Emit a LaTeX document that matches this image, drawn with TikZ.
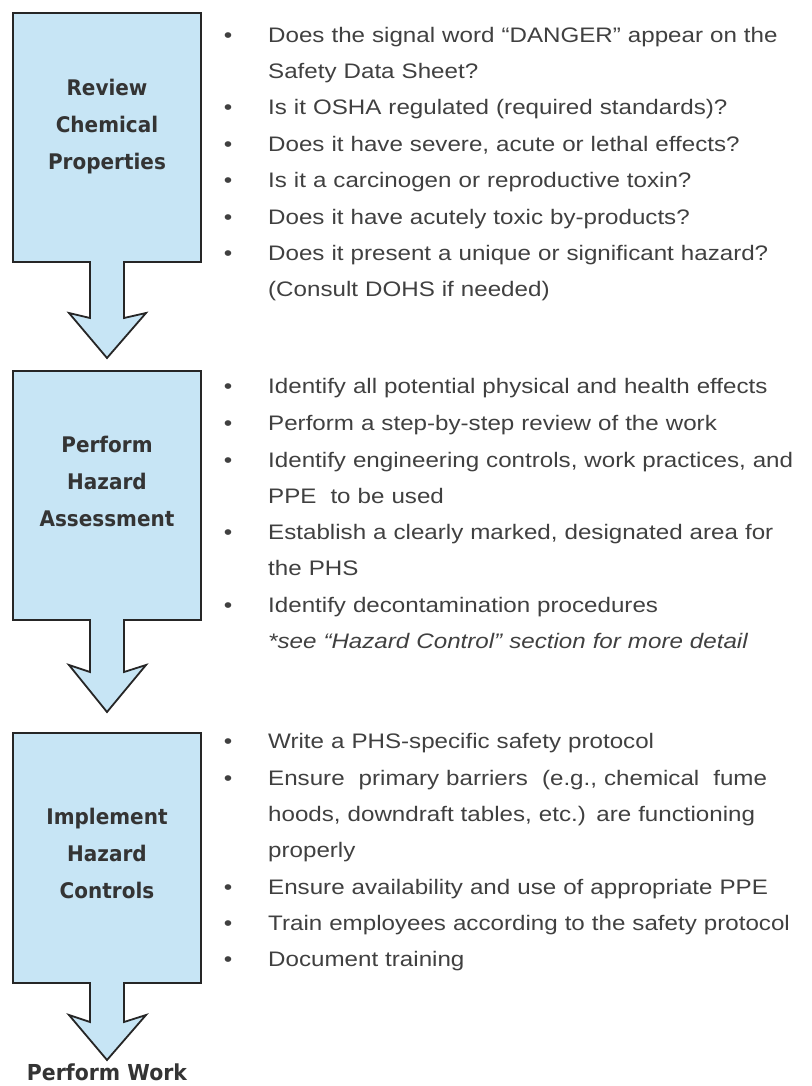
\documentclass[tikz,border=0pt]{standalone}
\usepackage{fontspec}
\setmainfont{Liberation Sans}[FakeStretch=1.15]
\newfontfamily\headfont{DejaVu Sans}[FakeStretch=0.93]

\definecolor{boxblue}{RGB}{199,229,245}
\definecolor{inkgray}{RGB}{64,64,64}
\definecolor{headgray}{RGB}{52,52,52}
\definecolor{edgegray}{RGB}{38,38,38}

\begin{document}
\begin{tikzpicture}[x=1pt,y=-1pt,
  stepshape/.style={fill=boxblue,draw=edgegray,line width=1.8pt},
  title/.style={font=\headfont\bfseries\fontsize{21.5}{37}\selectfont,text=headgray,align=center,inner sep=0},
  item/.style={font=\fontsize{21}{36}\selectfont,text=inkgray,anchor=base west,inner sep=0,text width=560pt,align=left},
  dot/.style={font=\fontsize{21}{36}\selectfont,text=inkgray,anchor=base,inner sep=0}]

\useasboundingbox (0,0) rectangle (811,1086);

% Step shapes
\filldraw[stepshape] (13,13) -- (201,13) -- (201,262) -- (124,262) -- (124,318) -- (146,313)
  -- (107,358) -- (69,313) -- (90,318) -- (90,262) -- (13,262) -- cycle;
\filldraw[stepshape] (13,371) -- (201,371) -- (201,620) -- (124,620) -- (124,672) -- (146,665)
  -- (107,712) -- (69,665) -- (90,672) -- (90,620) -- (13,620) -- cycle;
\filldraw[stepshape] (13,733) -- (201,733) -- (201,983) -- (124,983) -- (124,1022) -- (146,1015)
  -- (107,1060) -- (69,1015) -- (90,1022) -- (90,983) -- (13,983) -- cycle;

% Titles
\node[title] (rev) at (107,127) {Review\\Chemical\\Properties};
\node[title] (haz) at (107,481) {Perform\\Hazard\\Assessment};
\node[title] (ctl) at (107,853) {Implement\\Hazard\\Controls};
\node[title,font=\headfont\bfseries\fontsize{22}{30}\selectfont] (work) at (107,1072) {Perform Work};

% Bullets
\foreach \y [count=\i] in {43,115,152,188,224,260,393,430,467,539,612,748,785,894,930,966}
  \node[dot] (b\i) at (228,\y) {\textbullet};

% Chemical properties
\node[item] (r1) at (268,43) {Does the signal word “DANGER” appear on the\\Safety Data Sheet?};
\node[item] (r2) at (268,115) {Is it OSHA regulated (required standards)?};
\node[item] (r3) at (268,152) {Does it have severe, acute or lethal effects?};
\node[item] (r4) at (268,188) {Is it a carcinogen or reproductive toxin?};
\node[item] (r5) at (268,224) {Does it have acutely toxic by-products?};
\node[item] (r6) at (268,260) {Does it present a unique or significant hazard?\\(Consult DOHS if needed)};

% Hazard assessment
\node[item] (h1) at (268,393) {Identify all potential physical and health effects};
\node[item] (h2) at (268,430) {Perform a step-by-step review of the work};
\node[item] (h3) at (268,467) {Identify engineering controls, work practices, and\\PPE~ to be used};
\node[item] (h4) at (268,539) {Establish a clearly marked, designated area for\\the PHS};
\node[item] (h5) at (268,612) {Identify decontamination procedures\\\textit{*see “Hazard Control” section for more detail}};

% Hazard controls
\node[item] (c1) at (268,748) {Write a PHS-specific safety protocol};
\node[item] (c2) at (268,785) {Ensure~ primary barriers~ (e.g., chemical~ fume\\hoods, downdraft tables, etc.) are functioning\\properly};
\node[item] (c3) at (268,894) {Ensure availability and use of appropriate PPE};
\node[item] (c4) at (268,930) {Train employees according to the safety protocol};
\node[item] (c5) at (268,966) {Document training};

\end{tikzpicture}
\end{document}
